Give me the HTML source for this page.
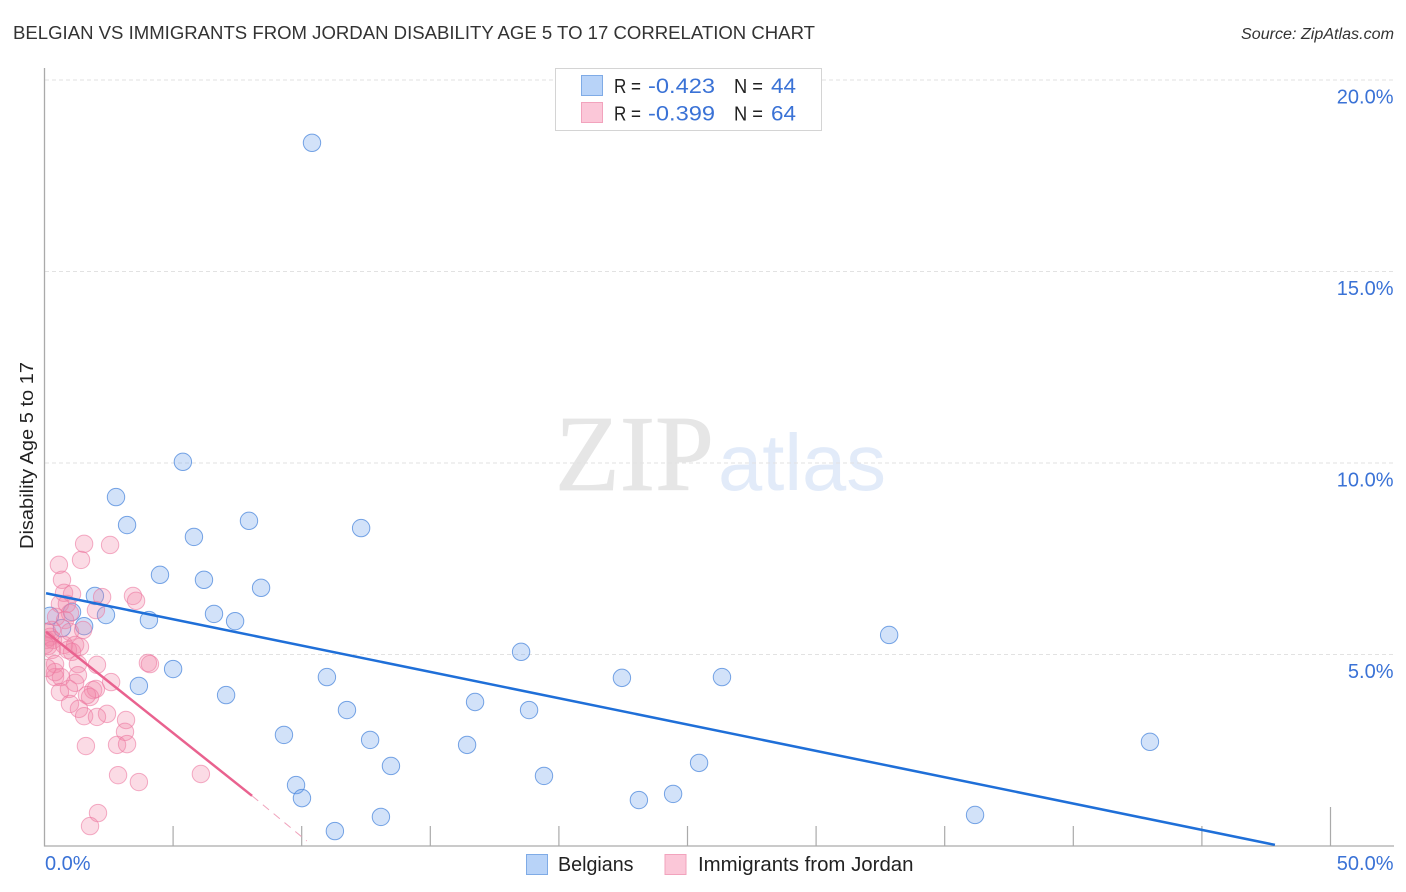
<!DOCTYPE html>
<html lang="en">
<head>
<meta charset="utf-8">
<title>Belgian vs Immigrants from Jordan Disability Age 5 to 17 Correlation Chart</title>
<style>
html,body{margin:0;padding:0;background:#fff;width:1406px;height:892px;overflow:hidden}
svg{display:block}
text{font-family:"Liberation Sans",sans-serif}
</style>
</head>
<body>
<svg id="chart" width="1406" height="892" viewBox="0 0 1406 892" xmlns="http://www.w3.org/2000/svg">
  <defs>
    <clipPath id="plot-clip"><rect x="45" y="60" width="1350" height="786"/></clipPath>
  </defs>
  <rect x="0" y="0" width="1406" height="892" fill="#fff"/>
  <g>
    <text x="555" y="490" font-size="108" textLength="159" lengthAdjust="spacingAndGlyphs" fill="#e6e6e6" stroke="#e6e6e6" stroke-width="0.8" style="font-family:'Liberation Serif',serif">ZIP</text>
    <text x="718" y="490" font-size="80" textLength="168" lengthAdjust="spacingAndGlyphs" fill="#e2ebf9">atlas</text>
  </g>
  <g id="grid"></g>
  <g id="axes"></g>
  <g id="marks" clip-path="url(#plot-clip)"></g>
  <text x="13" y="39" font-size="18.5" textLength="802" lengthAdjust="spacingAndGlyphs" fill="#333">BELGIAN VS IMMIGRANTS FROM JORDAN DISABILITY AGE 5 TO 17 CORRELATION CHART</text>
  <text x="1241" y="39" font-size="15.5" font-style="italic" textLength="153" lengthAdjust="spacingAndGlyphs" fill="#333">Source: ZipAtlas.com</text>
  <text transform="translate(33,549) rotate(-90)" x="0" y="0" font-size="18" textLength="187" lengthAdjust="spacingAndGlyphs" fill="#222">Disability Age 5 to 17</text>

  <g>
    <rect x="555.5" y="68.5" width="266" height="62" fill="#fff" stroke="#d4d4d4" stroke-width="1"/>
    <rect x="581.5" y="75.5" width="21" height="20" fill="#b8d3f8" stroke="#7fabe6" stroke-width="1"/>
    <rect x="581.5" y="102.5" width="21" height="20" fill="#fbc7d8" stroke="#f2a3bd" stroke-width="1"/>
    <text x="614" y="93" font-size="20" textLength="27" lengthAdjust="spacingAndGlyphs" fill="#222">R =</text>
    <text x="648" y="93" font-size="21.5" textLength="67" lengthAdjust="spacingAndGlyphs" fill="#3a72d6">-0.423</text>
    <text x="734" y="93" font-size="20" textLength="29" lengthAdjust="spacingAndGlyphs" fill="#222">N =</text>
    <text x="771" y="93" font-size="21.5" textLength="25" lengthAdjust="spacingAndGlyphs" fill="#3a72d6">44</text>
    <text x="614" y="120.5" font-size="20" textLength="27" lengthAdjust="spacingAndGlyphs" fill="#222">R =</text>
    <text x="648" y="120.5" font-size="21.5" textLength="67" lengthAdjust="spacingAndGlyphs" fill="#3a72d6">-0.399</text>
    <text x="734" y="120.5" font-size="20" textLength="29" lengthAdjust="spacingAndGlyphs" fill="#222">N =</text>
    <text x="771" y="120.5" font-size="21.5" textLength="25" lengthAdjust="spacingAndGlyphs" fill="#3a72d6">64</text>
  </g>

  <g>
    <rect x="526.5" y="854.5" width="21" height="20" fill="#b8d3f8" stroke="#7fabe6" stroke-width="1"/>
    <text x="558" y="871" font-size="20" textLength="75.5" lengthAdjust="spacingAndGlyphs" fill="#222">Belgians</text>
    <rect x="665" y="854.5" width="21" height="20" fill="#fbc7d8" stroke="#f2a3bd" stroke-width="1"/>
    <text x="698" y="871" font-size="20" textLength="215.5" lengthAdjust="spacingAndGlyphs" fill="#222">Immigrants from Jordan</text>
  </g>
</svg>
<script>
const xTickValues = [0, 5, 10, 15, 20, 25, 30, 35, 40, 45, 50];
const yTickValues = [5, 10, 15, 20];
const yTickLabels = ["5.0%", "10.0%", "15.0%", "20.0%"];
const xEndLabels = ["0.0%", "50.0%"];

const belgianX = [10.40,5.38,2.78,3.21,7.95,12.31,5.81,4.49,6.20,8.42,1.96,6.59,7.41,4.06,2.39,1.07,1.54,0.68,0.21,32.84,18.53,5.00,10.98,22.45,26.34,3.67,7.06,16.74,18.84,11.76,9.31,12.66,16.43,42.98,25.45,13.47,19.42,9.78,10.01,23.11,24.44,13.08,36.18,11.29];
const belgianY = [18.36,10.03,9.11,8.38,8.49,8.30,8.07,7.08,6.95,6.74,6.53,6.06,5.87,5.90,6.03,6.11,5.74,5.69,6.01,5.51,5.07,4.62,4.41,4.39,4.41,4.18,3.94,3.76,3.55,3.55,2.90,2.77,2.64,2.72,2.17,2.09,1.83,1.59,1.25,1.20,1.36,0.76,0.81,0.39];

const jordanX = [1.54,2.55,1.42,0.56,0.68,0.76,1.07,3.44,2.24,3.56,0.60,0.87,2.00,0.99,0.45,0.80,1.50,0.99,0.29,0.10,0.21,0.06,0.33,0.14,0.02,0.29,0.76,1.19,1.38,0.91,1.07,0.41,1.30,2.04,4.02,4.10,1.30,0.41,0.64,1.19,2.59,0.95,1.89,2.00,1.77,1.65,0.60,0.99,1.34,2.43,1.54,2.04,3.17,3.13,2.82,3.21,1.61,2.86,3.67,6.08,2.08,1.77,0.41,0.10];
const jordanY = [7.89,7.86,7.47,7.34,6.95,6.61,6.58,6.53,6.50,6.40,6.32,6.32,6.16,6.08,5.98,5.90,5.64,5.59,5.64,5.59,5.46,5.38,5.38,5.22,5.25,5.12,5.25,5.25,5.20,5.12,5.07,4.75,4.75,4.73,4.78,4.75,4.46,4.41,4.41,4.26,4.28,4.10,4.07,4.10,3.89,3.94,4.02,3.71,3.58,3.45,3.39,3.37,3.29,2.98,2.64,2.66,2.61,1.85,1.67,1.88,0.86,0.52,4.54,4.65];

const belgianTrendX = [0.06, 47.84];
const belgianTrendY = [6.60, 0.03];
const jordanTrendX = [0.06, 8.07];
const jordanTrendY = [5.59, 1.31];
const jordanTrendExtX = [8.07, 10.2];
const jordanTrendExtY = [1.31, 0.13];

const SVG_NS = "http://www.w3.org/2000/svg";
function xScale(v) { return 44.5 + v * 25.72; }
function yScale(v) { return 846 - v * 38.3; }
function make(tag, attrs, parent) {
  const el = document.createElementNS(SVG_NS, tag);
  for (const k in attrs) el.setAttribute(k, attrs[k]);
  parent.appendChild(el);
  return el;
}

const grid = document.getElementById("grid");
const axes = document.getElementById("axes");
const marks = document.getElementById("marks");

yTickValues.forEach(function (v, i) {
  const line = make("line", {x1: 45, x2: 1394, y1: yScale(v), y2: yScale(v), stroke: "#e2e2e2", "stroke-width": 1, "stroke-dasharray": "4 3"}, grid);
  
  
  const label = make("text", {x: 1393.5, y: yScale(v) + 23.5, "font-size": 20, "text-anchor": "end", fill: "#3a72d6"}, axes);
  
  
  label.textContent = yTickLabels[i];
});

const yAxisLine = make("line", {x1: 44.5, x2: 44.5, y1: 68, y2: 846.5, stroke: "#aaa", "stroke-width": 1.3}, axes);


const xAxisLine = make("line", {x1: 44, x2: 1394, y1: 846, y2: 846, stroke: "#aaa", "stroke-width": 1.3}, axes);



xTickValues.slice(1).forEach(function (v, i, all) {
  const top = i === all.length - 1 ? 807 : 826;
  const tick = make("line", {x1: xScale(v), x2: xScale(v), y1: top, y2: 846, stroke: "#aaa", "stroke-width": 1.2}, axes);
  
  
});

const xLabelStart = make("text", {x: 45, y: 870, "font-size": 20, fill: "#3a72d6"}, axes);


xLabelStart.textContent = xEndLabels[0];
const xLabelEnd = make("text", {x: 1393.5, y: 870, "font-size": 20, "text-anchor": "end", fill: "#3a72d6"}, axes);


xLabelEnd.textContent = xEndLabels[1];

belgianX.forEach(function (v, i) {
  const dot = make("circle", {cx: xScale(v), cy: yScale(belgianY[i]), r: 8.7, fill: "rgba(105,160,235,0.3)", stroke: "rgba(75,135,220,0.75)", "stroke-width": 1}, marks);
  
  
});

jordanX.forEach(function (v, i) {
  const dot = make("circle", {cx: xScale(v), cy: yScale(jordanY[i]), r: 8.7, fill: "rgba(243,135,170,0.3)", stroke: "rgba(236,120,160,0.6)", "stroke-width": 1}, marks);
  
  
});

const belgianTrend = make("line", {x1: xScale(belgianTrendX[0]), y1: yScale(belgianTrendY[0]), x2: xScale(belgianTrendX[1]), y2: yScale(belgianTrendY[1]), stroke: "#1f6fd8", "stroke-width": 2.5}, marks);



const jordanTrend = make("line", {x1: xScale(jordanTrendX[0]), y1: yScale(jordanTrendY[0]), x2: xScale(jordanTrendX[1]), y2: yScale(jordanTrendY[1]), stroke: "#e9628f", "stroke-width": 2.5}, marks);



const jordanExt = make("line", {x1: xScale(jordanTrendExtX[0]), y1: yScale(jordanTrendExtY[0]), x2: xScale(jordanTrendExtX[1]), y2: yScale(jordanTrendExtY[1]), stroke: "#f0a3bc", "stroke-width": 1, "stroke-dasharray": "8 6"}, marks);


</script>
</body>
</html>
